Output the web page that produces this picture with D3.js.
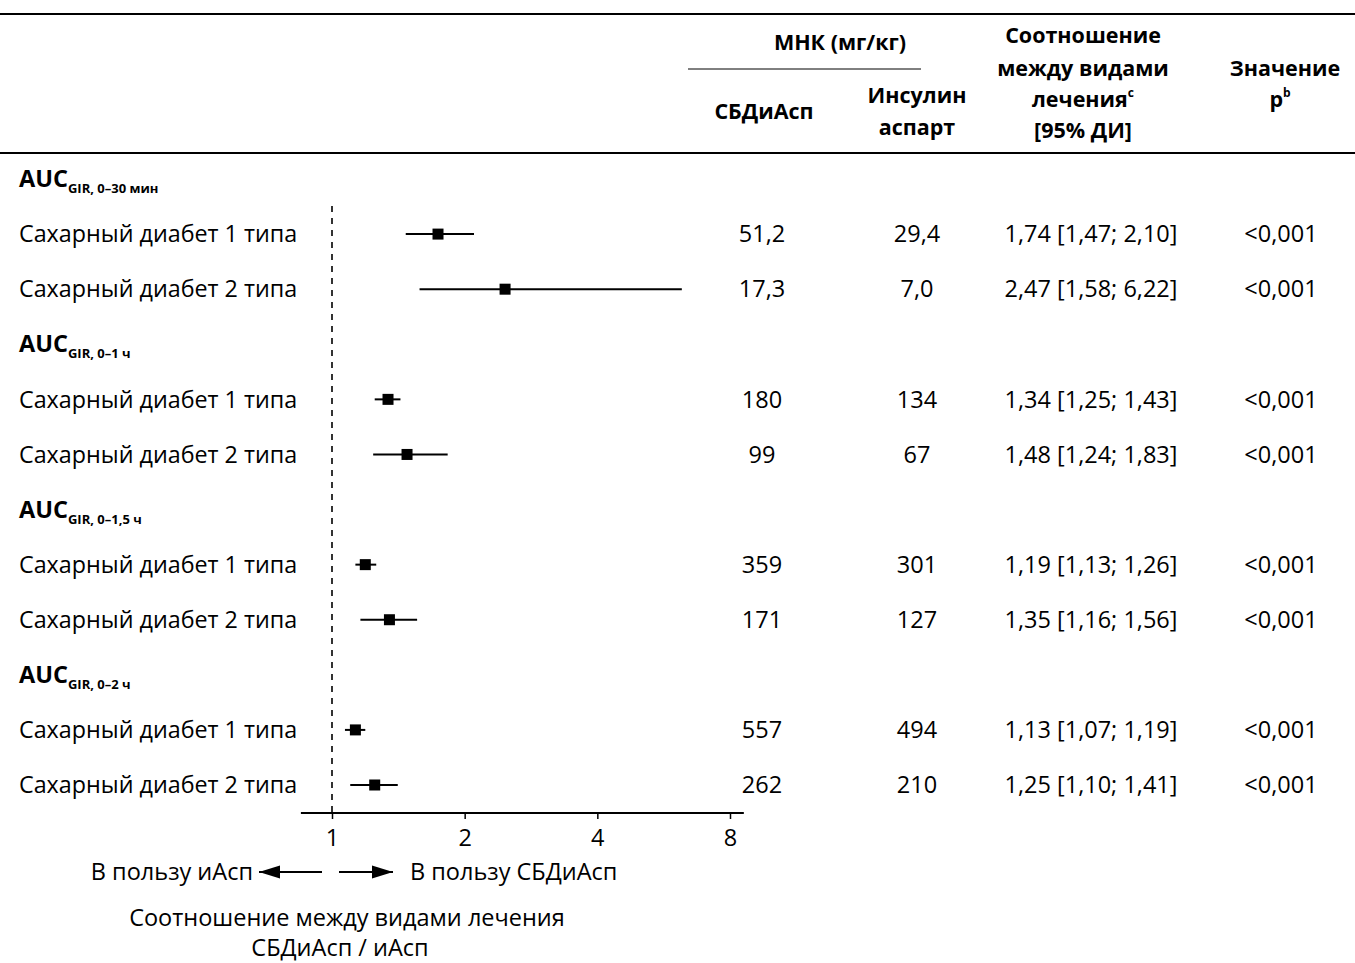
<!DOCTYPE html>
<html>
<head>
<meta charset="utf-8">
<script src="https://cdn.jsdelivr.net/npm/d3@7"></script>
<style>
  body { margin: 0; background: #fff; }
  text { font-family: "Open Sans", "Noto Sans", sans-serif; fill: #000; }
</style>
</head>
<body>
<script>
// values
var groupSubs   = ["GIR, 0–30 мин", "GIR, 0–1 ч", "GIR, 0–1,5 ч", "GIR, 0–2 ч"];
var typeLabels  = ["Сахарный диабет 1 типа", "Сахарный диабет 2 типа"];
var lsmFiasp    = [51.2, 17.3, 180, 99, 359, 171, 557, 262];
var lsmAsp      = [29.4, 7.0, 134, 67, 301, 127, 494, 210];
var ratio       = [1.74, 2.47, 1.34, 1.48, 1.19, 1.35, 1.13, 1.25];
var ciLow       = [1.47, 1.58, 1.25, 1.24, 1.13, 1.16, 1.07, 1.10];
var ciHigh      = [2.10, 6.22, 1.43, 1.83, 1.26, 1.56, 1.19, 1.41];
var pValues     = ["<0,001", "<0,001", "<0,001", "<0,001", "<0,001", "<0,001", "<0,001", "<0,001"];
var lsmDecimals = [1, 0, 0, 0];
var xTicks      = [1, 2, 4, 8];

var width = 1355, height = 963;
var fs = 23.5;

var svg = d3.select("body").append("svg")
    .attr("width", width)
    .attr("height", height);

// build the row list: group header then two rows
var rows = [];
groupSubs.forEach(function(g, gi) {
  rows.push({kind: "group", sub: g});
  typeLabels.forEach(function(t, ti) {
    rows.push({kind: "row", label: t, i: gi * 2 + ti, dec: lsmDecimals[gi]});
  });
});

// scales
var y = d3.scaleLinear().domain([0, rows.length - 1]).range([179, 785]);
var x = d3.scaleLog().base(2).domain([1, 8]).range([332, 730]);
var axisY = 813;

function fmt(v, d) { return v.toFixed(d).replace(".", ","); }

var col = {fiasp: 762, asp: 917, ratio: 1091, p: 1281};

// table rules
svg.append("line").attr("x1", 0).attr("x2", width).attr("y1", 14).attr("y2", 14)
    .attr("stroke", "#000").attr("stroke-width", 2);
svg.append("line").attr("x1", 0).attr("x2", width).attr("y1", 153).attr("y2", 153)
    .attr("stroke", "#000").attr("stroke-width", 2);
svg.append("line").attr("x1", 688).attr("x2", 921).attr("y1", 69).attr("y2", 69)
    .attr("stroke", "#000").attr("stroke-width", 1);

// header text
var head = svg.append("g").attr("font-weight", "bold").attr("font-size", 21.5)
    .attr("text-anchor", "middle");
function headLine(cx, cy, s) {
  return head.append("text").attr("x", cx).attr("y", cy).attr("dy", "0.35em").text(s);
}
headLine(840, 42, "МНК (мг/кг)");
headLine(764, 111, "СБДиАсп");
headLine(917, 95, "Инсулин");
headLine(917, 127, "аспарт");
headLine(1083, 35, "Соотношение");
headLine(1083, 68, "между видами");
headLine(1083, 99, "лечения").append("tspan").attr("font-size", 12).attr("dy", "-0.8em").text("c");
headLine(1083, 130, "[95% ДИ]");
headLine(1285, 68, "Значение");
headLine(1280, 99, "p").append("tspan").attr("font-size", 12).attr("dy", "-0.8em").text("b");

// reference line at 1
svg.append("line")
    .attr("x1", x(1)).attr("x2", x(1))
    .attr("y1", 206).attr("y2", axisY)
    .attr("stroke", "#000").attr("stroke-width", 1.6)
    .attr("stroke-dasharray", "6,6");

// group headers
var grp = svg.selectAll(".grp")
    .data(rows.map(function(r, k) { return {r: r, k: k}; }).filter(function(d) { return d.r.kind === "group"; }))
  .enter().append("text")
    .attr("class", "grp")
    .attr("x", 19)
    .attr("y", function(d) { return y(d.k); })
    .attr("dy", "0.35em")
    .attr("font-weight", "bold")
    .attr("font-size", 23.5);
grp.append("tspan").text("AUC");
grp.append("tspan").attr("font-size", 13).attr("dy", 6).text(function(d) { return d.r.sub; });

// data rows
var dataRows = rows.map(function(r, k) { return {r: r, k: k}; })
    .filter(function(d) { return d.r.kind === "row"; });

var rg = svg.selectAll(".row")
    .data(dataRows)
  .enter().append("g")
    .attr("class", "row")
    .attr("transform", function(d) { return "translate(0," + y(d.k) + ")"; });

rg.append("text").attr("x", 19).attr("dy", "0.35em").attr("font-size", 23.3)
    .text(function(d) { return d.r.label; });

rg.append("line")
    .attr("x1", function(d) { return x(ciLow[d.r.i]); })
    .attr("x2", function(d) { return x(ciHigh[d.r.i]); })
    .attr("stroke", "#000").attr("stroke-width", 2);

rg.append("rect")
    .attr("x", function(d) { return x(ratio[d.r.i]) - 5.5; })
    .attr("y", -5.5)
    .attr("width", 11).attr("height", 11)
    .attr("fill", "#000");

var cells = rg.append("g").attr("font-size", fs).attr("text-anchor", "middle");
cells.append("text").attr("x", col.fiasp).attr("dy", "0.35em")
    .text(function(d) { return fmt(lsmFiasp[d.r.i], d.r.dec); });
cells.append("text").attr("x", col.asp).attr("dy", "0.35em")
    .text(function(d) { return fmt(lsmAsp[d.r.i], d.r.dec); });
cells.append("text").attr("x", col.ratio).attr("dy", "0.35em")
    .text(function(d) {
      var i = d.r.i;
      return fmt(ratio[i], 2) + " [" + fmt(ciLow[i], 2) + "; " + fmt(ciHigh[i], 2) + "]";
    });
cells.append("text").attr("x", col.p).attr("dy", "0.35em")
    .text(function(d) { return pValues[d.r.i]; });

// x axis
var axisG = svg.append("g")
    .attr("transform", "translate(0," + axisY + ")")
    .call(d3.axisBottom(x).tickValues(xTicks).tickFormat(d3.format("d"))
      .tickSize(6).tickSizeOuter(0));
axisG.select(".domain").remove();
axisG.append("line")
    .attr("x1", x(0.85)).attr("x2", x(8.6))
    .attr("stroke", "#000").attr("stroke-width", 2);
axisG.selectAll(".tick line").attr("stroke-width", 1.5);
axisG.selectAll(".tick text")
    .attr("font-size", fs)
    .attr("font-family", "'Open Sans', 'Noto Sans', sans-serif")
    .attr("fill", "#000")
    .attr("y", 25)
    .attr("dy", "0.35em");

// favour arrows
var defs = svg.append("defs");
defs.append("marker")
    .attr("id", "arrow")
    .attr("markerUnits", "userSpaceOnUse")
    .attr("markerWidth", 22).attr("markerHeight", 14)
    .attr("refX", 21).attr("refY", 7)
    .attr("orient", "auto")
  .append("path")
    .attr("d", "M0,0.5 L21,7 L0,13.5 Z")
    .attr("fill", "#000");

var arrowY = 872;
svg.append("line")
    .attr("x1", x(1) - 10).attr("x2", x(1) - 73)
    .attr("y1", arrowY).attr("y2", arrowY)
    .attr("stroke", "#000").attr("stroke-width", 2.2)
    .attr("marker-end", "url(#arrow)");
svg.append("line")
    .attr("x1", x(1) + 7).attr("x2", x(1) + 61)
    .attr("y1", arrowY).attr("y2", arrowY)
    .attr("stroke", "#000").attr("stroke-width", 2.2)
    .attr("marker-end", "url(#arrow)");

svg.append("text").attr("x", x(1) - 79).attr("y", arrowY).attr("dy", "0.35em")
    .attr("font-size", fs).attr("text-anchor", "end").text("В пользу иАсп");
svg.append("text").attr("x", x(1) + 78).attr("y", arrowY).attr("dy", "0.35em")
    .attr("font-size", fs).text("В пользу СБДиАсп");

// axis title
svg.append("text").attr("x", 347).attr("y", 918).attr("dy", "0.35em")
    .attr("font-size", fs).attr("text-anchor", "middle")
    .text("Соотношение между видами лечения");
svg.append("text").attr("x", 340).attr("y", 948).attr("dy", "0.35em")
    .attr("font-size", fs).attr("text-anchor", "middle")
    .text("СБДиАсп / иАсп");
</script>
</body>
</html>
